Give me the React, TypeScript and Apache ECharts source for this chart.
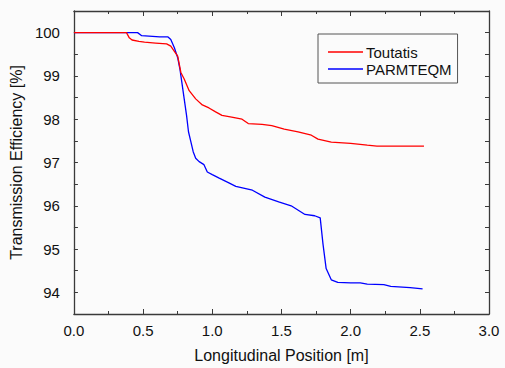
import React, { useEffect, useRef } from "react";
import * as echarts from "echarts";

const toutatisX = [0, 0.38, 0.40, 0.42, 0.47, 0.51, 0.59, 0.67, 0.70, 0.726, 0.75, 0.773, 0.797, 0.833, 0.88, 0.928, 0.976, 1.024, 1.07, 1.14, 1.215, 1.26, 1.36, 1.43, 1.52, 1.62, 1.716, 1.764, 1.86, 2.0, 2.12, 2.19, 2.53];
const toutatisY = [100, 100, 99.88, 99.83, 99.80, 99.78, 99.76, 99.74, 99.69, 99.57, 99.46, 99.08, 98.93, 98.66, 98.47, 98.33, 98.26, 98.17, 98.09, 98.05, 98.0, 97.9, 97.88, 97.85, 97.77, 97.71, 97.63, 97.54, 97.47, 97.44, 97.40, 97.38, 97.38];

const parmX = [0, 0.46, 0.49, 0.62, 0.68, 0.70, 0.726, 0.75, 0.766, 0.78, 0.797, 0.814, 0.828, 0.845, 0.862, 0.88, 0.905, 0.94, 0.964, 1.0, 1.05, 1.12, 1.17, 1.29, 1.38, 1.48, 1.57, 1.67, 1.74, 1.78, 1.80, 1.823, 1.86, 1.907, 2.0, 2.07, 2.12, 2.24, 2.29, 2.43, 2.52];
const parmY = [100, 100, 99.93, 99.90, 99.90, 99.84, 99.65, 99.42, 99.16, 98.85, 98.47, 98.09, 97.71, 97.48, 97.25, 97.1, 97.02, 96.95, 96.78, 96.72, 96.64, 96.53, 96.45, 96.36, 96.2, 96.09, 96.0, 95.8, 95.77, 95.72, 95.12, 94.55, 94.29, 94.23, 94.22, 94.22, 94.19, 94.18, 94.14, 94.11, 94.08];

const seriesNames = ["Toutatis", "PARMTEQM"];
const xTitle = "Longitudinal Position [m]";
const yTitle = "Transmission Efficiency [%]";

const FONT = "Liberation Sans, Arial, sans-serif";
const AXIS_COLOR = "#3a3a3a";

export default function App() {
  const ref = useRef<HTMLDivElement>(null);
  useEffect(() => {
    if (!ref.current) return;
    const chart = echarts.init(ref.current, undefined, { renderer: "svg" });
    const tickStyle = { show: true, inside: true, length: 5, lineStyle: { color: AXIS_COLOR, width: 1 } };
    const minorStyle = { show: true, splitNumber: 2, length: 3, lineStyle: { color: AXIS_COLOR, width: 1 } };
    chart.setOption({
      animation: false,
      backgroundColor: "#fbfbfb",
      textStyle: { fontFamily: FONT },
      grid: { left: 70, right: 16, top: 11, bottom: 51 },
      legend: {
        orient: "vertical",
        left: 318,
        top: 34,
        data: seriesNames,
        icon: "rect",
        itemWidth: 35,
        itemHeight: 1.6,
        itemGap: 1,
        padding: [10, 6, 6, 10],
        borderColor: "#555",
        borderWidth: 1,
        textStyle: { fontFamily: FONT, fontSize: 15, lineHeight: 16, color: "#111", padding: [0, 0, 0, -2] },
      },
      xAxis: [
        {
          type: "value",
          min: 0,
          max: 3,
          interval: 0.5,
          position: "bottom",
          name: xTitle,
          nameLocation: "middle",
          nameGap: 33,
          nameTextStyle: { fontFamily: FONT, fontSize: 16, color: "#111" },
          axisLine: { show: true, lineStyle: { color: AXIS_COLOR, width: 1.3 } },
          axisTick: tickStyle,
          minorTick: minorStyle,
          splitLine: { show: false },
          axisLabel: { fontFamily: FONT, fontSize: 15, color: "#111", margin: 9, formatter: (v: number) => v.toFixed(1) },
        },
        {
          type: "value",
          min: 0,
          max: 3,
          interval: 0.5,
          position: "top",
          axisLine: { show: true, onZero: false, lineStyle: { color: AXIS_COLOR, width: 1.3 } },
          axisTick: tickStyle,
          minorTick: minorStyle,
          splitLine: { show: false },
          axisLabel: { show: false },
        },
      ],
      yAxis: [
        {
          type: "value",
          min: 93.5,
          max: 100.5,
          interval: 0.5,
          position: "left",
          name: yTitle,
          nameLocation: "middle",
          nameGap: 41,
          nameTextStyle: { fontFamily: FONT, fontSize: 16, color: "#111" },
          axisLine: { show: true, lineStyle: { color: AXIS_COLOR, width: 1.3 } },
          axisTick: { ...tickStyle, length: 4 },
          splitLine: { show: false },
          axisLabel: {
            fontFamily: FONT,
            fontSize: 15,
            color: "#111",
            margin: 14,
            formatter: (v: number) => (Math.abs(v - Math.round(v)) < 1e-6 ? String(Math.round(v)) : ""),
          },
        },
        {
          type: "value",
          min: 93.5,
          max: 100.5,
          interval: 0.5,
          position: "right",
          axisLine: { show: true, onZero: false, lineStyle: { color: AXIS_COLOR, width: 1.3 } },
          axisTick: { ...tickStyle, length: 4 },
          splitLine: { show: false },
          axisLabel: { show: false },
        },
      ],
      series: [
        {
          name: seriesNames[0],
          type: "line",
          xAxisIndex: 0,
          yAxisIndex: 0,
          symbol: "none",
          lineStyle: { color: "#ff0000", width: 1.3 },
          itemStyle: { color: "#ff0000" },
          data: toutatisX.map((x, i) => [x, toutatisY[i]]),
          z: 3,
        },
        {
          name: seriesNames[1],
          type: "line",
          xAxisIndex: 0,
          yAxisIndex: 0,
          symbol: "none",
          lineStyle: { color: "#0000ff", width: 1.3 },
          itemStyle: { color: "#0000ff" },
          data: parmX.map((x, i) => [x, parmY[i]]),
          z: 2,
        },
      ],
    });
    return () => chart.dispose();
  }, []);
  return <div ref={ref} style={{ position: "fixed", left: 0, top: 0, width: 505, height: 368 }} />;
}
